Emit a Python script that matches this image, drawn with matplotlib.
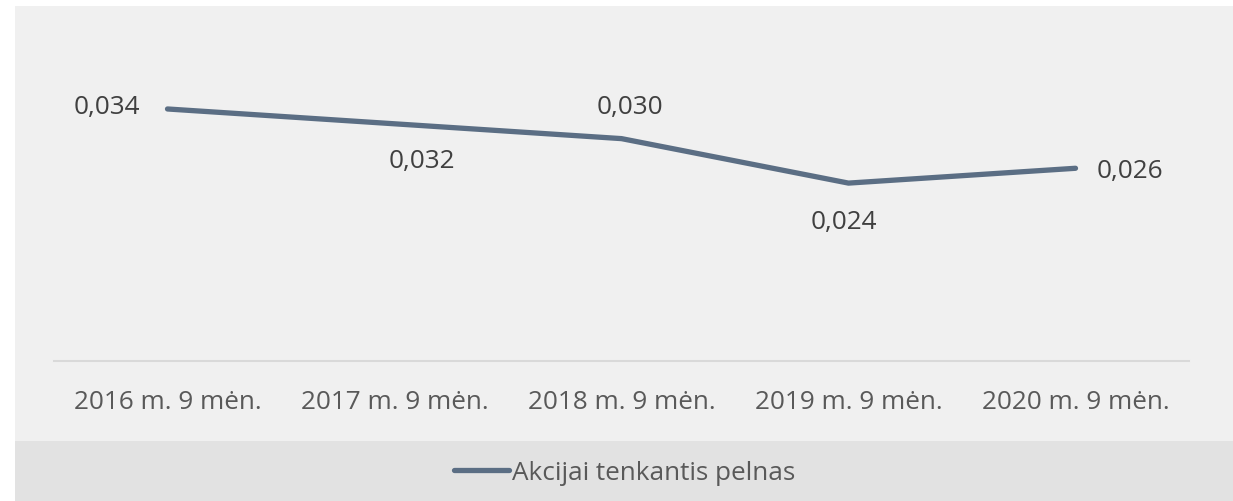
import matplotlib
matplotlib.use("Agg")
import matplotlib.pyplot as plt
from matplotlib.patches import Rectangle
from matplotlib.lines import Line2D

categories = ["2016 m. 9 mėn.", "2017 m. 9 mėn.", "2018 m. 9 mėn.", "2019 m. 9 mėn.", "2020 m. 9 mėn."]
values = [0.034, 0.032, 0.030, 0.024, 0.026]
value_labels = ["0,034", "0,032", "0,030", "0,024", "0,026"]
series_name = "Akcijai tenkantis pelnas"

# label offsets in pixels (dx, dy) relative to the point
label_offsets = [(-61, 1), (27, -38), (8, 31), (-5, -39), (54, -3)]

W, H = 1233, 501
plt.rcParams['font.family'] = ['Open Sans', 'DejaVu Sans']
fig = plt.figure(figsize=(W / 100, H / 100), dpi=100)
fig.patch.set_facecolor("white")

# chart area background and legend band
fig.add_artist(Rectangle((15 / W, 0), 1 - 15 / W, (H - 6) / H, transform=fig.transFigure,
                         facecolor="#f0f0f0", edgecolor="none", zorder=0))
fig.add_artist(Rectangle((15 / W, 0), 1 - 15 / W, (H - 441) / H, transform=fig.transFigure,
                         facecolor="#e2e2e2", edgecolor="none", zorder=0))

left, right = 54 / W, 1189 / W
bottom = (H - 361) / H
top = (H - 64.5) / H
ax = fig.add_axes([left, bottom, right - left, top - bottom])
ax.set_facecolor("none")

line_color = "#5b6e84"
fs = 18.8
x = list(range(len(categories)))
ax.plot(x, values, color=line_color, lw=3.8, solid_capstyle="round", solid_joinstyle="round", zorder=3)

for xi, v, lab, (dx, dy) in zip(x, values, value_labels, label_offsets):
    ax.annotate(lab, (xi, v), xytext=(dx, dy), textcoords="offset pixels",
                ha="center", va="center", fontsize=fs, color="#404040")

ax.set_xlim(-0.5, len(categories) - 0.5)
ax.set_ylim(0, 0.04)
ax.set_xticks(x)
ax.set_xticklabels(categories, fontsize=fs, color="#595959")
ax.tick_params(axis="x", length=0, pad=21)
ax.set_yticks([])
for s in ["top", "right", "left"]:
    ax.spines[s].set_visible(False)
ax.spines["bottom"].set_color("#d9d9d9")
ax.spines["bottom"].set_linewidth(1.5)

handle = Line2D([], [], color=line_color, lw=3.8, solid_capstyle="round")
fig.legend([handle], [series_name], loc="center", bbox_to_anchor=(625 / W, (H - 473) / H),
           frameon=False, fontsize=fs, handlelength=2.1, handletextpad=0.12, labelcolor="#595959")

fig.savefig("out.png", dpi=100, facecolor=fig.get_facecolor())
